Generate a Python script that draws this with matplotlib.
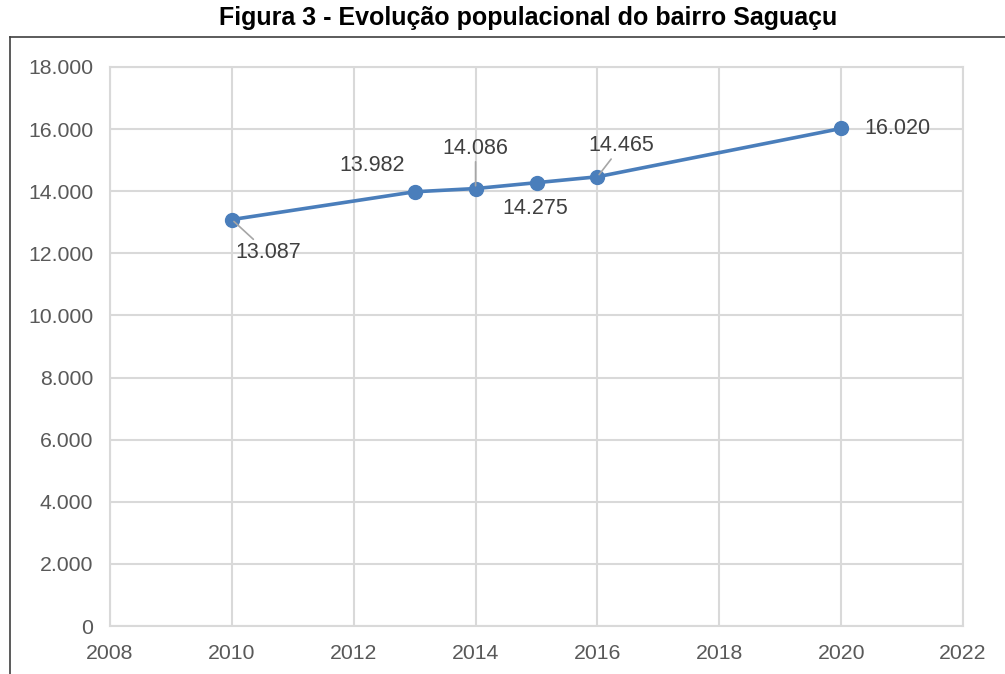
import matplotlib
matplotlib.use("Agg")
import matplotlib.pyplot as plt
from matplotlib.lines import Line2D
from matplotlib.ticker import FuncFormatter, MultipleLocator

plt.rcParams["font.family"] = ["Liberation Sans", "DejaVu Sans"]

# Data
anos = [2010, 2013, 2014, 2015, 2016, 2020]
populacao = [13087, 13982, 14086, 14275, 14465, 16020]
rotulos = ["13.087", "13.982", "14.086", "14.275", "14.465", "16.020"]

# label offsets in pixels (dx, dy) and whether a leader line is drawn
offsets = [(36, -33), (-43, 26), (0, 40), (-1, -26), (24, 31), (56, 0)]
leader = [True, False, True, False, True, False]


def fmt_milhar(v, pos):
    return f"{int(v):,}".replace(",", ".")


fig = plt.figure(figsize=(10.05, 6.74), dpi=100)
ax = fig.add_axes([110 / 1005, 48 / 674, 853 / 1005, 559 / 674])

grid_c = "#d9d9d9"
line_c = "#4a7ebb"

ax.plot(anos, populacao, color=line_c, lw=2.6, marker="o",
        markersize=10, markerfacecolor=line_c, markeredgecolor=line_c,
        zorder=3)

for x, y, txt, (dx, dy), ld in zip(anos, populacao, rotulos, offsets, leader):
    if ld:
        arrow = dict(arrowstyle="-", color="#a6a6a6", lw=1.2,
                     shrinkA=0, shrinkB=2)
    else:
        arrow = None
    ax.annotate(txt, xy=(x, y), xytext=(dx, dy), textcoords="offset pixels",
                ha="center", va="center", fontsize=15.5, color="#404040",
                arrowprops=arrow, zorder=4)

ax.set_xlim(2008, 2022)
ax.set_ylim(0, 18000)
ax.xaxis.set_major_locator(MultipleLocator(2))
ax.yaxis.set_major_locator(MultipleLocator(2000))
ax.yaxis.set_major_formatter(FuncFormatter(fmt_milhar))

ax.grid(True, color=grid_c, lw=1.5)
ax.set_axisbelow(True)
for s in ax.spines.values():
    s.set_color(grid_c)
    s.set_linewidth(1.5)
ax.tick_params(length=0, labelsize=15.3, labelcolor="#595959")
ax.tick_params(axis="x", pad=13)
ax.tick_params(axis="y", pad=12)

# Title
fig.text(0.525, 1 - 18 / 674, "Figura 3 - Evolução populacional do bairro Saguaçu",
         ha="center", va="center", fontsize=18, fontweight="bold", color="black")

# outer frame (left and top)
fig.add_artist(Line2D([10 / 1005, 10 / 1005], [0, 1 - 37 / 674],
                      transform=fig.transFigure, color="#404040", lw=1.2))
fig.add_artist(Line2D([10 / 1005, 1], [1 - 37 / 674, 1 - 37 / 674],
                      transform=fig.transFigure, color="#404040", lw=1.2))

fig.savefig("out.png", dpi=100)
